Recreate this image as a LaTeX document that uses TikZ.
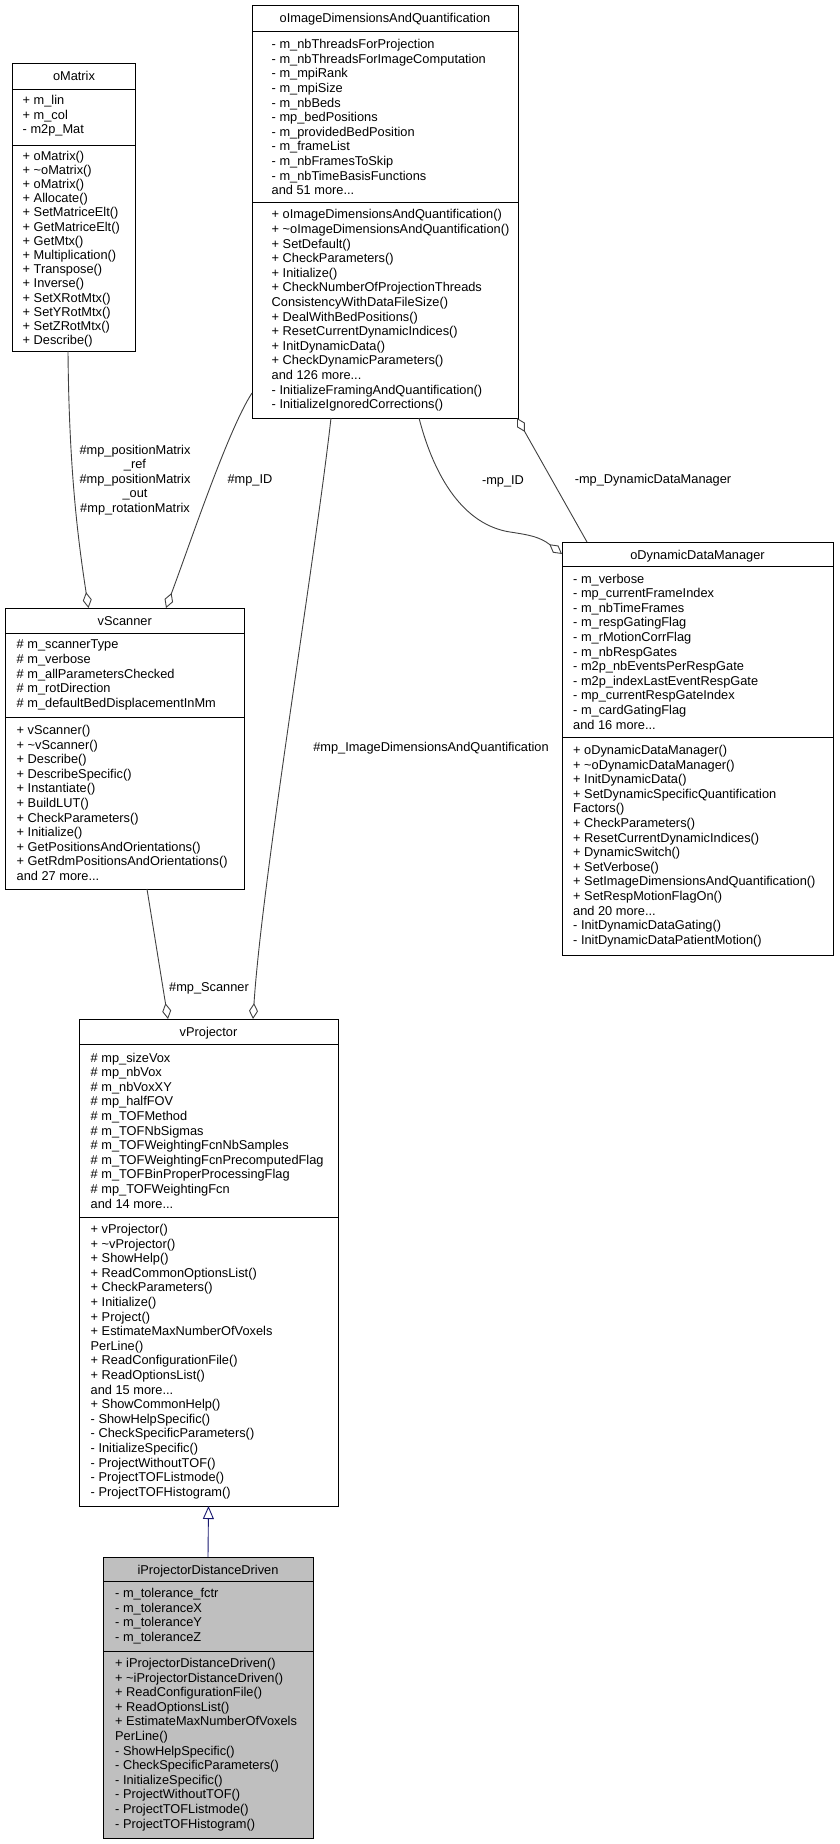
\documentclass[tikz,border=0pt]{standalone}
\usepackage{fontspec}
\setmainfont{Liberation Sans}
\usetikzlibrary{arrows.meta}
\definecolor{edgegray}{HTML}{404040}
\definecolor{inhblue}{HTML}{191970}

\begin{document}
\begin{tikzpicture}[
    x=1pt, y=-1pt,
    every node/.style={font=\fontsize{12.8}{14.6}\selectfont},
    classbox/.style={draw=black, line width=1pt, inner sep=0pt, outer sep=0pt, anchor=north west, fill=#1},
    classbox/.default=white,
    classtitle/.style={anchor=base, inner sep=0pt},
    members/.style={align=left, anchor=west, inner sep=0pt},
    divider/.style={line width=1pt},
    uses/.style={draw=edgegray, line width=0.9pt, -{Diamond[open, length=16pt, width=9pt]}},
    usedby/.style={draw=edgegray, line width=0.9pt, {Diamond[open, length=16pt, width=9pt]}-},
    inherits/.style={draw=inhblue, line width=0.9pt, -{Triangle[open, length=13pt, width=11pt]}},
    edgelabel/.style={align=center, inner sep=0pt}
]

\useasboundingbox (0,0) rectangle (839,1844);

% class boxes
\node[classbox, minimum width=122.6pt, minimum height=287pt] (omatrix) at (12.7,64) {};
\node[classbox, minimum width=266pt, minimum height=412pt] (oimage) at (252,6) {};
\node[classbox, minimum width=238.5pt, minimum height=281pt] (vscanner) at (5.5,608) {};
\node[classbox, minimum width=271pt, minimum height=413pt] (odynamic) at (562,542) {};
\node[classbox, minimum width=259pt, minimum height=487pt] (vprojector) at (79,1019) {};
\node[classbox=black!25, minimum width=210pt, minimum height=281pt] (iprojdd) at (103,1557) {};

% header and member dividers
\foreach \cls/\a/\b in {omatrix/25.7/81, oimage/25.7/196.7, vscanner/25/109,
                        odynamic/24/195, vprojector/25/198, iprojdd/24/94} {
    \draw[divider] ([yshift=-\a pt]\cls.north west) -- ([yshift=-\a pt]\cls.north east);
    \draw[divider] ([yshift=-\b pt]\cls.north west) -- ([yshift=-\b pt]\cls.north east);
}

% oMatrix
\node[classtitle] (omatrix-title) at (74,81) {oMatrix};
\node[members] (omatrix-attr) at (22.5,116) {+ m\_lin\\+ m\_col\\- m2p\_Mat};
\node[members, font=\fontsize{12.8}{14.2}\selectfont] (omatrix-meth) at (22.5,249) {+ oMatrix()\\+ \textasciitilde oMatrix()\\+ oMatrix()\\+ Allocate()\\+ SetMatriceElt()\\+ GetMatriceElt()\\+ GetMtx()\\+ Multiplication()\\+ Transpose()\\+ Inverse()\\+ SetXRotMtx()\\+ SetYRotMtx()\\+ SetZRotMtx()\\+ Describe()};

% oImageDimensionsAndQuantification
\node[classtitle] (oimage-title) at (385,23) {oImageDimensionsAndQuantification};
\node[members] (oimage-attr) at (271.5,117.2) {- m\_nbThreadsForProjection\\- m\_nbThreadsForImageComputation\\- m\_mpiRank\\- m\_mpiSize\\- m\_nbBeds\\- mp\_bedPositions\\- m\_providedBedPosition\\- m\_frameList\\- m\_nbFramesToSkip\\- m\_nbTimeBasisFunctions\\and 51 more...};
\node[members] (oimage-meth) at (271.5,310.4) {+ oImageDimensionsAndQuantification()\\+ \textasciitilde oImageDimensionsAndQuantification()\\+ SetDefault()\\+ CheckParameters()\\+ Initialize()\\+ CheckNumberOfProjectionThreads\\ConsistencyWithDataFileSize()\\+ DealWithBedPositions()\\+ ResetCurrentDynamicIndices()\\+ InitDynamicData()\\+ CheckDynamicParameters()\\and 126 more...\\- InitializeFramingAndQuantification()\\- InitializeIgnoredCorrections()};

% vScanner
\node[classtitle] (vscanner-title) at (124.75,625) {vScanner};
\node[members] (vscanner-attr) at (16.5,675) {\# m\_scannerType\\\# m\_verbose\\\# m\_allParametersChecked\\\# m\_rotDirection\\\# m\_defaultBedDisplacementInMm};
\node[members] (vscanner-meth) at (16.5,803) {+ vScanner()\\+ \textasciitilde vScanner()\\+ Describe()\\+ DescribeSpecific()\\+ Instantiate()\\+ BuildLUT()\\+ CheckParameters()\\+ Initialize()\\+ GetPositionsAndOrientations()\\+ GetRdmPositionsAndOrientations()\\and 27 more...};

% oDynamicDataManager
\node[classtitle] (odynamic-title) at (697.5,559) {oDynamicDataManager};
\node[members] (odynamic-attr) at (573,651.5) {- m\_verbose\\- mp\_currentFrameIndex\\- m\_nbTimeFrames\\- m\_respGatingFlag\\- m\_rMotionCorrFlag\\- m\_nbRespGates\\- m2p\_nbEventsPerRespGate\\- m2p\_indexLastEventRespGate\\- mp\_currentRespGateIndex\\- m\_cardGatingFlag\\and 16 more...};
\node[members] (odynamic-meth) at (573,846) {+ oDynamicDataManager()\\+ \textasciitilde oDynamicDataManager()\\+ InitDynamicData()\\+ SetDynamicSpecificQuantification\\Factors()\\+ CheckParameters()\\+ ResetCurrentDynamicIndices()\\+ DynamicSwitch()\\+ SetVerbose()\\+ SetImageDimensionsAndQuantification()\\+ SetRespMotionFlagOn()\\and 20 more...\\- InitDynamicDataGating()\\- InitDynamicDataPatientMotion()};

% vProjector
\node[classtitle] (vprojector-title) at (208.5,1036) {vProjector};
\node[members] (vprojector-attr) at (90.5,1130.5) {\# mp\_sizeVox\\\# mp\_nbVox\\\# m\_nbVoxXY\\\# mp\_halfFOV\\\# m\_TOFMethod\\\# m\_TOFNbSigmas\\\# m\_TOFWeightingFcnNbSamples\\\# m\_TOFWeightingFcnPrecomputedFlag\\\# m\_TOFBinProperProcessingFlag\\\# mp\_TOFWeightingFcn\\and 14 more...};
\node[members] (vprojector-meth) at (90.5,1361.5) {+ vProjector()\\+ \textasciitilde vProjector()\\+ ShowHelp()\\+ ReadCommonOptionsList()\\+ CheckParameters()\\+ Initialize()\\+ Project()\\+ EstimateMaxNumberOfVoxels\\PerLine()\\+ ReadConfigurationFile()\\+ ReadOptionsList()\\and 15 more...\\+ ShowCommonHelp()\\- ShowHelpSpecific()\\- CheckSpecificParameters()\\- InitializeSpecific()\\- ProjectWithoutTOF()\\- ProjectTOFListmode()\\- ProjectTOFHistogram()};

% iProjectorDistanceDriven
\node[classtitle] (iprojdd-title) at (208,1574) {iProjectorDistanceDriven};
\node[members] (iprojdd-attr) at (115,1616) {- m\_tolerance\_fctr\\- m\_toleranceX\\- m\_toleranceY\\- m\_toleranceZ};
\node[members] (iprojdd-meth) at (115,1744.5) {+ iProjectorDistanceDriven()\\+ \textasciitilde iProjectorDistanceDriven()\\+ ReadConfigurationFile()\\+ ReadOptionsList()\\+ EstimateMaxNumberOfVoxels\\PerLine()\\- ShowHelpSpecific()\\- CheckSpecificParameters()\\- InitializeSpecific()\\- ProjectWithoutTOF()\\- ProjectTOFListmode()\\- ProjectTOFHistogram()};

% collaboration edges
\draw[uses] ([xshift=55.3pt]omatrix.south west) .. controls (69,470) and (78,540) .. ([xshift=83pt]vscanner.north west);
\draw[uses] ([yshift=-387pt]oimage.north west) .. controls (228,430) and (191,541) .. ([xshift=160.5pt]vscanner.north west);
\draw[uses] ([xshift=79pt]oimage.south west) .. controls (315,560) and (262,880) .. ([xshift=174pt]vprojector.north west);
\draw[uses] ([xshift=141.5pt]vscanner.south west) -- ([xshift=89pt]vprojector.north west);
\draw[uses] ([xshift=167pt]oimage.south west) .. controls (435,480) and (465,525) .. (510,532)
    .. controls (530,535) and (540,537) .. ([yshift=-12pt]odynamic.north west);
\draw[usedby] ([xshift=-1pt]oimage.south east) -- ([xshift=25pt]odynamic.north west);

% edge labels
\node[edgelabel] (lbl-posmatrix) at (135,480) {\#mp\_positionMatrix\\\_ref\\\#mp\_positionMatrix\\\_out\\\#mp\_rotationMatrix};
\node[edgelabel] (lbl-scannerid) at (250,480) {\#mp\_ID};
\node[edgelabel] (lbl-imagedim) at (431,748) {\#mp\_ImageDimensionsAndQuantification};
\node[edgelabel] (lbl-scanner) at (209,988) {\#mp\_Scanner};
\node[edgelabel] (lbl-dynid) at (503,481) {-mp\_ID};
\node[edgelabel] (lbl-dynmgr) at (653,480) {-mp\_DynamicDataManager};

% inheritance
\draw[inherits] (iprojdd.north) -- (vprojector.south);

\end{tikzpicture}
\end{document}
